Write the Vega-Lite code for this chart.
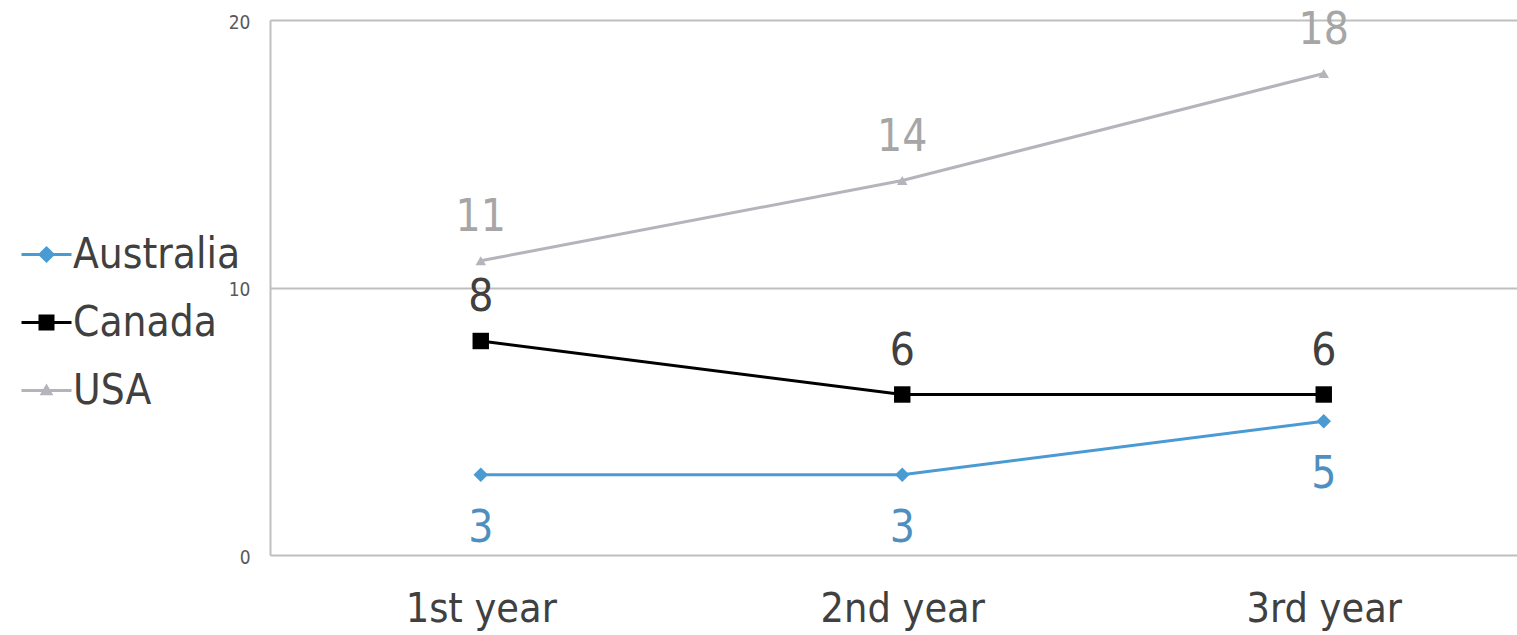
{
  "$schema": "https://vega.github.io/schema/vega-lite/v6.json",
  "width": 1247,
  "height": 535,
  "autosize": {"type": "none"},
  "padding": {"left": 270, "top": 20, "right": 0, "bottom": 80},
  "background": "white",
  "config": {
    "view": {"stroke": null},
    "font": "DejaVu Sans Condensed, DejaVu Sans"
  },
  "data": {
    "values": [
      {"year": "1st year", "n": 1, "country": "Australia", "value": 3},
      {"year": "2nd year", "n": 2, "country": "Australia", "value": 3},
      {"year": "3rd year", "n": 3, "country": "Australia", "value": 5},
      {"year": "1st year", "n": 1, "country": "Canada", "value": 8},
      {"year": "2nd year", "n": 2, "country": "Canada", "value": 6},
      {"year": "3rd year", "n": 3, "country": "Canada", "value": 6},
      {"year": "1st year", "n": 1, "country": "USA", "value": 11},
      {"year": "2nd year", "n": 2, "country": "USA", "value": 14},
      {"year": "3rd year", "n": 3, "country": "USA", "value": 18}
    ]
  },
  "encoding": {
    "x": {
      "field": "n",
      "type": "quantitative",
      "scale": {"domain": [0.5, 3.4585], "nice": false, "zero": false},
      "axis": {
        "title": null,
        "values": [1, 2, 3],
        "labelExpr": "['1st year','2nd year','3rd year'][datum.value - 1]",
        "domain": false,
        "ticks": false,
        "grid": false,
        "labelFontSize": 41,
        "labelColor": "#404040",
        "labelPadding": 34,
        "labelAngle": 0,
        "labelFlush": false,
        "labelOverlap": false
      }
    },
    "y": {
      "field": "value",
      "type": "quantitative",
      "scale": {"domain": [0, 20], "nice": false},
      "axis": {
        "title": null,
        "values": [0, 10, 20],
        "ticks": false,
        "domain": true,
        "domainColor": "#bfbfbf",
        "domainWidth": 2,
        "grid": true,
        "gridColor": "#bfbfbf",
        "gridWidth": 2,
        "labelFontSize": 19,
        "labelColor": "#595959",
        "labelPadding": 20,
        "labelFont": "DejaVu Sans Condensed, DejaVu Sans",
        "labelOffset": 2
      }
    }
  },
  "layer": [
    {
      "mark": {"type": "line", "strokeWidth": 3},
      "encoding": {
        "color": {
          "field": "country",
          "type": "nominal",
          "scale": {"domain": ["Australia", "Canada", "USA"], "range": ["#4a9bd4", "#000000", "#b4b4bc"]},
          "legend": {
            "title": null,
            "orient": "none",
            "legendX": -250,
            "legendY": 208,
            "padding": 0,
            "symbolType": "stroke",
            "symbolSize": 2500,
            "symbolStrokeWidth": 3,
            "labelFontSize": 42,
            "labelColor": "#404040",
            "labelOffset": 0,
            "labelLimit": 400,
            "rowPadding": 20,
            "encode": {
              "symbols": {
                "update": {
                  "shape": {"signal": "datum.value === 'Australia' ? 'M-1,0H1M0,-0.26L0.26,0L0,0.26L-0.26,0Z' : datum.value === 'Canada' ? 'M-1,0H1M-0.26,-0.26H0.26V0.26H-0.26Z' : 'M-1,0H1M0,-0.16L0.17,0.13H-0.17Z'"},
                  "fill": {"signal": "datum.value === 'Australia' ? '#4a9bd4' : datum.value === 'Canada' ? '#000000' : '#b4b4bc'"},
                  "stroke": {"signal": "datum.value === 'Australia' ? '#4a9bd4' : datum.value === 'Canada' ? '#000000' : '#b4b4bc'"},
                  "strokeWidth": {"value": 3},
                  "size": {"value": 2500},
                  "opacity": {"value": 1},
                  "fillOpacity": {"value": 1},
                  "strokeOpacity": {"value": 1}
                }
              }
            }
          }
        }
      }
    },
    {
      "transform": [{"filter": "datum.country === 'Australia'"}],
      "mark": {"type": "point", "filled": true, "opacity": 1, "shape": "diamond", "size": 210, "color": "#4a9bd4"}
    },
    {
      "transform": [{"filter": "datum.country === 'Canada'"}],
      "mark": {"type": "point", "filled": true, "opacity": 1, "shape": "square", "size": 270, "color": "#000000"}
    },
    {
      "transform": [{"filter": "datum.country === 'USA'"}],
      "mark": {"type": "point", "filled": true, "opacity": 1, "shape": "triangle-up", "size": 110, "color": "#b4b4bc"}
    },
    {
      "transform": [{"filter": "datum.country === 'USA'"}],
      "mark": {"type": "text", "dy": -43, "fontSize": 44, "color": "#a6a6a6", "baseline": "middle"},
      "encoding": {"text": {"field": "value", "type": "quantitative"}}
    },
    {
      "transform": [{"filter": "datum.country === 'Canada'"}],
      "mark": {"type": "text", "dy": -43, "fontSize": 44, "color": "#404040", "baseline": "middle"},
      "encoding": {"text": {"field": "value", "type": "quantitative"}}
    },
    {
      "transform": [{"filter": "datum.country === 'Australia'"}],
      "mark": {"type": "text", "dy": 54, "fontSize": 44, "color": "#4f8fc0", "baseline": "middle"},
      "encoding": {"text": {"field": "value", "type": "quantitative"}}
    }
  ]
}
